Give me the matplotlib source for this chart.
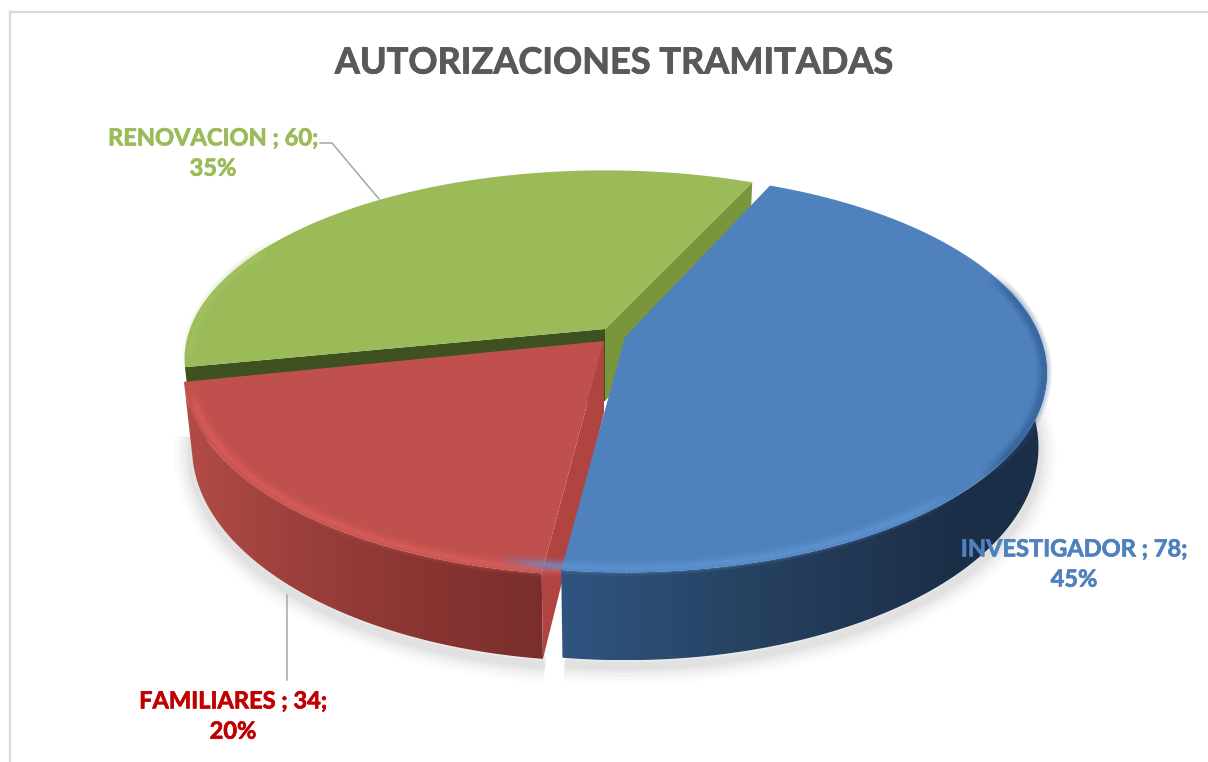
import matplotlib
matplotlib.use("Agg")
import matplotlib.pyplot as plt
import matplotlib.patheffects as pe
from matplotlib.collections import LineCollection
from matplotlib.patches import Polygon
import numpy as np

categories = ["INVESTIGADOR", "FAMILIARES", "RENOVACION"]
values = [78, 34, 60]
percents = ["45%", "20%", "35%"]

plt.rcParams['font.family'] = ['Lato', 'DejaVu Sans']

W, H = 1208, 762
fig = plt.figure(figsize=(W / 100, H / 100), dpi=100)
ax = fig.add_axes([0, 0, 1, 1])

# pie look: each slice has own apex because they are pulled apart
apex = {"INVESTIGADOR": (625, 337), "FAMILIARES": (604, 341), "RENOVACION": (605, 329)}
rad_y = {"INVESTIGADOR": 193, "FAMILIARES": 197, "RENOVACION": 184}
persp = {"INVESTIGADOR": 0.18, "FAMILIARES": 0.16, "RENOVACION": 0.16}
top_col = {"INVESTIGADOR": "#4f81bd", "FAMILIARES": "#c0504d", "RENOVACION": "#9bbb59"}
rad_x = 415
thick = 72
start = 66.0


def project(name, ang, depth=0.0, r=1.0):
    # circle -> screen, far side gets smaller
    cx, cy = apex[name]
    t = np.radians(ang)
    u, v = r * np.cos(t), r * np.sin(t)
    s = 1 / (1 + persp[name] * v)
    x = cx + rad_x * u * s * (1 - 0.02 * depth)
    y = cy - rad_y[name] * v * s + thick * s * depth
    return x, y


# slice angles, clockwise from start
spans = {}
a = start
for name, val in zip(categories, values):
    b = a - val / sum(values) * 360
    spans[name] = (a, b)
    a = b

# soft shadow under the front
for name, rng in [("INVESTIGADOR", (-97, 5)), ("FAMILIARES", (-97, -175))]:
    angs = np.linspace(rng[0], rng[1], 120)
    x, y = project(name, angs, depth=1.0)
    for lw, al in zip([36, 28, 21, 14, 8], [0.03, 0.035, 0.045, 0.055, 0.07]):
        ax.plot(x, y + 6, color="#808080", lw=lw * 0.72, alpha=al, solid_capstyle='butt', zorder=1)

# outer walls (front only) with a left to right gradient
wall_cols = {
    "INVESTIGADOR": ["#2f5480", "#26415f", "#1c2f49", "#1b2e47"],
    "FAMILIARES": ["#b24c48", "#9b3f3c", "#8a3532", "#7a2e2b"],
}
wall_x = {"INVESTIGADOR": [567, 760, 950, 1045], "FAMILIARES": [185, 300, 420, 540]}
wall_rng = {"INVESTIGADOR": (spans["INVESTIGADOR"][1], 8),
            "FAMILIARES": (spans["FAMILIARES"][0] - 360, spans["FAMILIARES"][1] - 360)}


def draw_wall(name, zo):
    lo, hi = wall_rng[name]
    angs = np.linspace(lo, hi, 160)
    xt, yt = project(name, angs)
    xb, yb = project(name, angs, depth=1.0)
    xs = np.r_[xt, xb[::-1]]
    ys = np.r_[yt, yb[::-1]]
    rgb = np.array([matplotlib.colors.to_rgb(c) for c in wall_cols[name]])
    gx = np.linspace(xs.min(), xs.max(), 400)
    grad = np.stack([np.interp(gx, wall_x[name], rgb[:, i]) for i in range(3)], axis=-1)[None, :, :]
    im = ax.imshow(grad, extent=[gx[0], gx[-1], ys.max(), ys.min()], aspect='auto', zorder=zo)
    im.set_clip_path(Polygon(np.c_[xs, ys], closed=True, transform=ax.transData))


def cut_face(name, ang, col, zo):
    cx, cy = apex[name]
    x0, y0 = project(name, ang)
    x1, y1 = project(name, ang, depth=1.0)
    ax.fill([cx, x0, x1, cx], [cy, y0, y1, cy + thick], color=col, lw=0, zorder=zo)


def draw_top(name, zo):
    a0, a1 = spans[name]
    angs = np.linspace(a0, a1, 200)
    x, y = project(name, angs)
    cx, cy = apex[name]
    ax.fill(np.r_[cx, x], np.r_[cy, y], color=top_col[name], lw=0, zorder=zo)


def draw_rim(name, lo, hi, col, zo, inset=0.015, peak=1.0):
    # highlight along the edge, fades at both ends, few strokes so it looks blurred
    angs = np.linspace(lo, hi, 240)
    x, y = project(name, angs, r=1 - inset)
    pts = np.c_[x, y].reshape(-1, 1, 2)
    segs = np.concatenate([pts[:-1], pts[1:]], axis=1)
    fade = np.clip(np.sin(np.linspace(0, np.pi, len(segs))) * 3, 0, 1) * peak
    rgb = matplotlib.colors.to_rgb(col)
    for lw, al in zip([15, 11, 7, 4], [0.14, 0.18, 0.25, 0.35]):
        cols = [(rgb[0], rgb[1], rgb[2], al * f) for f in fade]
        ax.add_collection(LineCollection(segs, colors=cols, linewidths=lw * 0.72, capstyle='butt', zorder=zo))


# green goes first, it is behind
cut_face("RENOVACION", spans["RENOVACION"][1], "#79963d", 2)
cut_face("RENOVACION", spans["RENOVACION"][0], "#3f5120", 2)
draw_top("RENOVACION", 3)
draw_rim("RENOVACION", 192, 150, "#aacb6c", 4, inset=0.012, peak=0.7)

draw_wall("FAMILIARES", 5)
cut_face("FAMILIARES", spans["FAMILIARES"][0], "#af4441", 5)
draw_top("FAMILIARES", 6)
draw_rim("FAMILIARES", spans["FAMILIARES"][1] - 360, spans["FAMILIARES"][0] - 360 + 8, "#e0625e", 7)

draw_wall("INVESTIGADOR", 8)
draw_top("INVESTIGADOR", 9)
draw_rim("INVESTIGADOR", spans["INVESTIGADOR"][1] - 8, -45, "#639ad9", 10)
draw_rim("INVESTIGADOR", -40, 20, "#2c5a8f", 10, inset=0.006, peak=0.8)

# frame
ax.plot([10, 10], [762, 12], color="#d9d9d9", lw=1.6, zorder=0)
ax.plot([10, 1208], [12, 12], color="#d9d9d9", lw=1.6, zorder=0)

# leaders
ax.plot([287, 287], [595, 680], color="#a6a6a6", lw=1.1, zorder=11)
ax.plot([320, 332, 379], [143, 143, 199], color="#a6a6a6", lw=1.1, zorder=2)

heavy = [pe.withStroke(linewidth=0.6, foreground=c) for c in ["#595959", "#4f81bd", "#c00000", "#9bbb59"]]

ax.text(614, 63, "AUTORIZACIONES TRAMITADAS", ha='center', va='center', fontsize=26, fontweight='bold',
        color="#595959", zorder=12, path_effects=[heavy[0]])

label_pos = [(1074, 564), (233, 716), (213, 153)]
label_col = ["#4f81bd", "#c00000", "#9bbb59"]
for i, name in enumerate(categories):
    txt = f"{name} ; {values[i]};\n{percents[i]}"
    ax.text(label_pos[i][0], label_pos[i][1], txt, ha='center', va='center',
            fontsize=17, fontweight='bold', color=label_col[i], linespacing=1.38, zorder=12,
            path_effects=[pe.withStroke(linewidth=0.5, foreground=label_col[i])])

ax.set_xlim(0, W)
ax.set_ylim(H, 0)
ax.axis('off')

fig.savefig("out.png", dpi=100)
